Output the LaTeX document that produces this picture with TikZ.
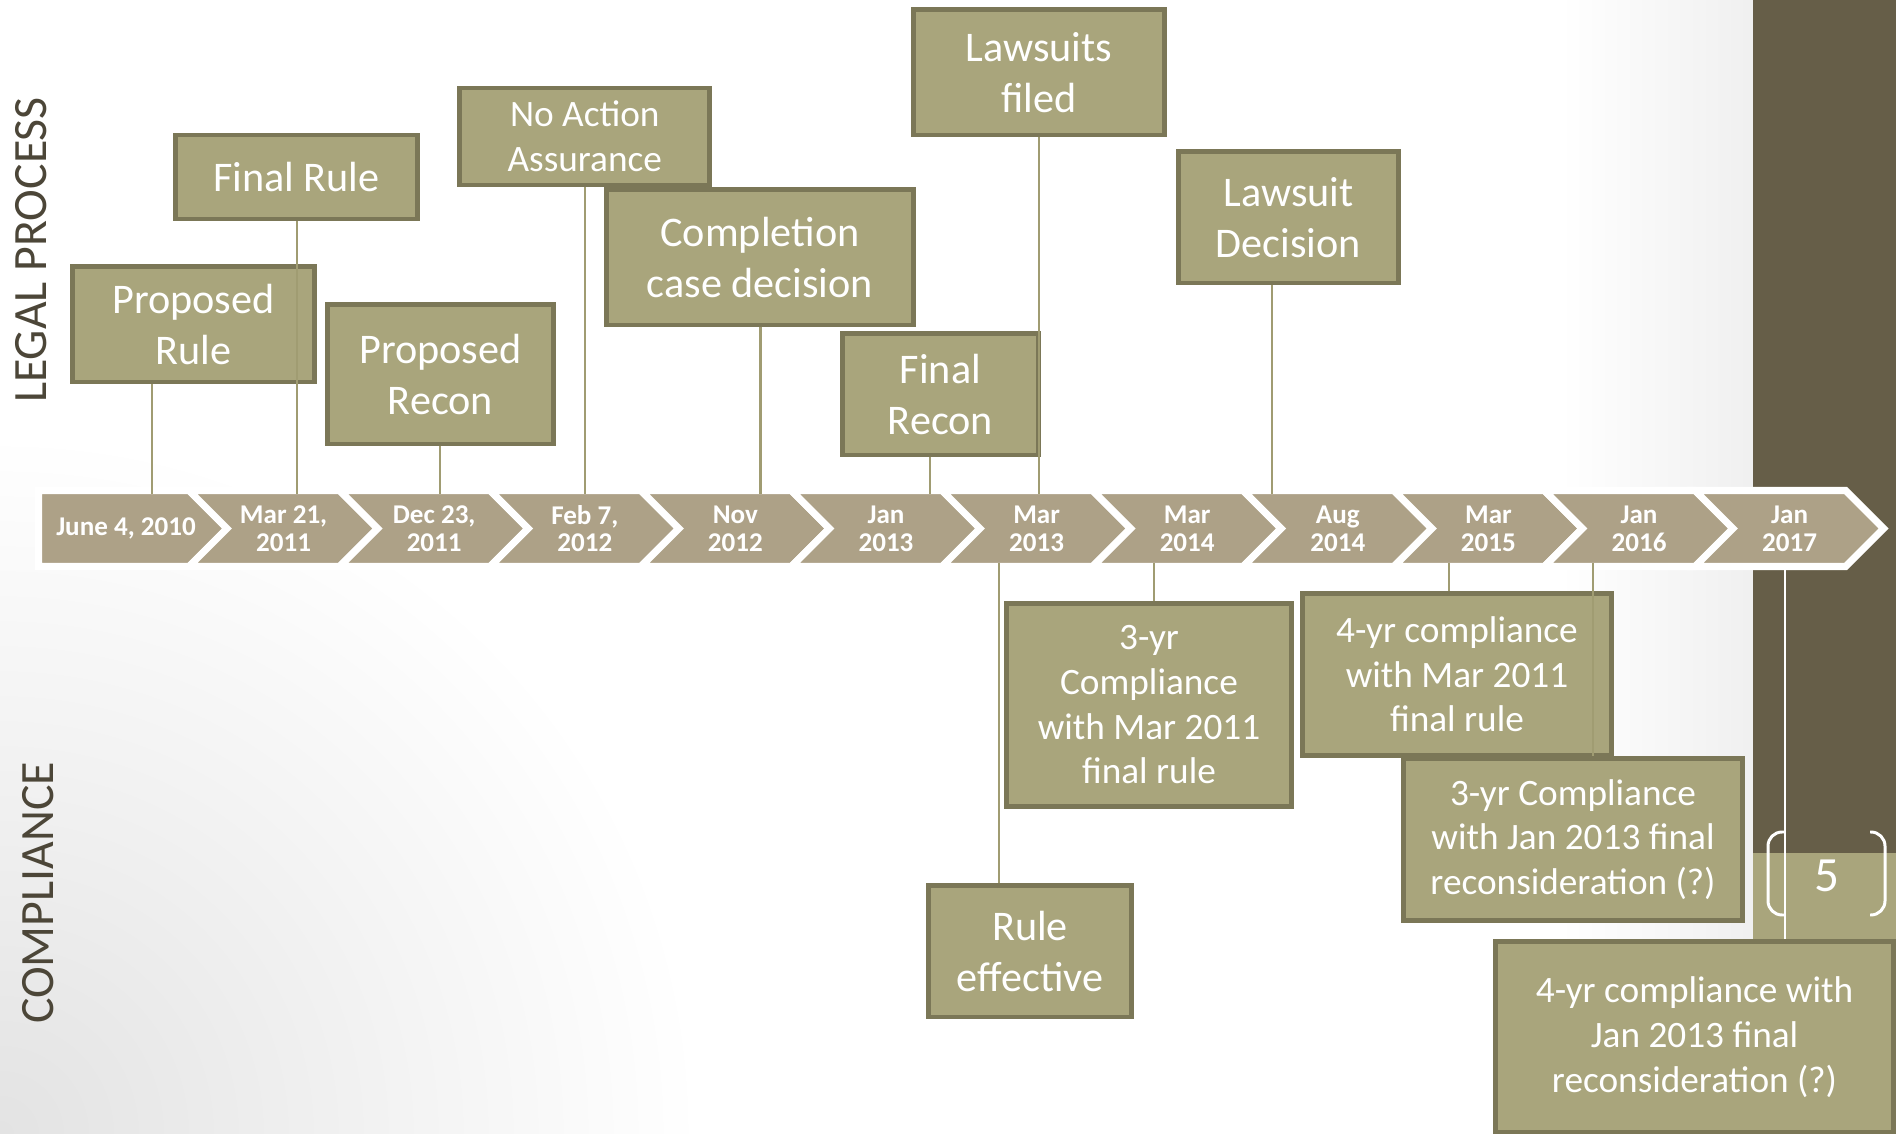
\documentclass[tikz,border=0pt]{standalone}
\usepackage{fontspec}
\setmainfont{Carlito}
\usepackage{xcolor}
\usetikzlibrary{positioning}
\definecolor{boxfill}{RGB}{169,165,124}
\definecolor{boxline}{RGB}{123,119,87}
\definecolor{chevron}{RGB}{173,161,135}
\definecolor{panel}{RGB}{102,94,72}
\definecolor{sidetext}{RGB}{76,70,56}
\definecolor{linkcol}{RGB}{160,156,114}
\tikzset{
  basic/.style    = {draw=boxline, fill=boxfill, line width=1.4pt, text=white,
                     align=center, rectangle, inner sep=0pt},
  bigbox/.style   = {basic, font=\fontsize{12}{14.5}\selectfont},
  smallbox/.style = {basic, font=\fontsize{10.6}{12.7}\selectfont},
  boxdim/.style 2 args = {minimum width=#1cm, minimum height=#2cm},
  datelabel/.style = {text=white, align=center,
                     font=\fontsize{7.7}{7.9}\selectfont\bfseries},
  side/.style     = {text=sidetext, rotate=90, font=\fontsize{13.6}{16}\selectfont},
  link/.style     = {draw=linkcol, line width=0.7pt}
}

\begin{document}
\begin{tikzpicture}[x=0.01cm, y=-0.01cm]
\useasboundingbox (0,0) rectangle (1896,1134);
\clip (0,0) rectangle (1896,1134);

% background and side panel
\shade[inner color=black!11, outer color=white] (0,1134) circle (7cm);
\shade[left color=white, right color=black!6] (1560,0) rectangle (1753,1134);
\fill[panel] (1753,0) rectangle (1896,853);
\fill[boxfill] (1753,853) rectangle (1896,1134);

% side titles
\node[side] (legal) at (31,250) {LEGAL PROCESS};
\node[side] (compl) at (38,893) {COMPLIANCE};

% the timeline, first chevron has a flat back
\filldraw[fill=chevron, draw=white, line width=2pt]
  (38.5,490.5) -- (189,490.5) -- (227,528.5) -- (189,566.5) -- (38.5,566.5) -- cycle;
\node[datelabel] (d0) at (126,528.5) {June 4, 2010};
\foreach \k/\lbl in {1/{Mar 21,\\2011}, 2/{Dec 23,\\2011}, 3/{Feb 7,\\2012},
                     4/{Nov\\2012}, 5/{Jan\\2013}, 6/{Mar\\2013}, 7/{Mar\\2014},
                     8/{Aug\\2014}, 9/{Mar\\2015}, 10/{Jan\\2016}, 11/{Jan\\2017}}{
  \pgfmathsetmacro\tip{227+150.6*\k}
  \filldraw[fill=chevron, draw=white, line width=2pt]
    ({\tip-188.6},490.5) -- ({\tip-38},490.5) -- (\tip,528.5) -- ({\tip-38},566.5)
    -- ({\tip-188.6},566.5) -- ({\tip-150.6},528.5) -- cycle;
  \node[datelabel] (d\k) at ({\tip-94},528.5) {\lbl};
}

% legal process, above the line
\node[bigbox, boxdim={2.42}{0.84}] (frule) at (296.5,177) {Final Rule};
\node[bigbox, boxdim={2.42}{1.15}] (prule) at (193.3,324.5) {Proposed\\Rule};
\node[bigbox, boxdim={2.25}{1.39}] (precon) at (440.5,374.5) {Proposed\\Recon};
\node[smallbox, boxdim={2.5}{0.97}] (noaction) at (584.8,136.5) {No Action\\Assurance};
\node[bigbox, boxdim={3.06}{1.35}] (completion) at (760,257.5) {Completion\\case decision};
\node[bigbox, boxdim={2.5}{1.25}] (lawsuits) at (1039,72.5) {Lawsuits\\filed};
\node[bigbox, boxdim={1.95}{1.21}] (frecon) at (940.5,394.5) {Final\\Recon};
\node[bigbox, boxdim={2.19}{1.31}] (ldecision) at (1288.5,217.5) {Lawsuit\\Decision};

% compliance, below the line
\node[smallbox, boxdim={2.84}{2.02}] (comp3mar) at (1149,705) {3-yr\\Compliance\\with Mar 2011\\final rule};
\node[bigbox, boxdim={2.02}{1.31}] (ruleeff) at (1030,951.5) {Rule\\effective};
\node[smallbox, boxdim={3.08}{1.61}] (comp4mar) at (1457,674.5) {4-yr compliance\\with Mar 2011\\final rule};
\node[smallbox, boxdim={3.38}{1.61}] (comp3jan) at (1573,839.5) {3-yr Compliance\\with Jan 2013 final\\reconsideration (?)};
\node[smallbox, boxdim={3.97}{1.9}] (comp4jan) at (1694.5,1037) {4-yr compliance with\\Jan 2013 final\\reconsideration (?)};

% where the lines meet the timeline
\coordinate (a1) at (152,494);
\coordinate (a2) at (297,494);
\coordinate (a3) at (440,494);
\coordinate (a4) at (585,494);
\coordinate (a5) at (760.6,494);
\coordinate (a6) at (930,494);
\coordinate (a7) at (1039,494);
\coordinate (a8) at (1272,494);
\coordinate (b1) at (999,563);
\coordinate (b2) at (1154,563);
\coordinate (b3) at (1449,563);
\coordinate (b4) at (1593,563);
\coordinate (b5) at (1785,563);

\draw[link] (a1 |- prule.south) -- (a1);
\draw[link] (a2 |- frule.south) -- (a2);
\draw[link] (a3 |- precon.south) -- (a3);
\draw[link] (a4 |- noaction.south) -- (a4);
\draw[link] (a5 |- completion.south) -- (a5);
\draw[link] (a6 |- frecon.south) -- (a6);
\draw[link] (a7 |- lawsuits.south) -- (a7);
\draw[link] (a8 |- ldecision.south) -- (a8);

\draw[link] (b1) -- (b1 |- ruleeff.north);
\draw[link] (b2) -- (b2 |- comp3mar.north);
\draw[link] (b3) -- (b3 |- comp4mar.north);
\draw[link] (b4) -- (b4 |- comp3jan.north);
\draw[link, draw=white] (b5) -- (b5 |- comp4jan.north);

% slide number
\node[text=white, font=\fontsize{14}{16}\selectfont] (slidenum) at (1827,876) {5};
\draw[white, line width=0.85pt, rounded corners=4pt]
  (1784,832) -- (1768,832) -- (1768,915) -- (1784,915);
\draw[white, line width=0.85pt, rounded corners=4pt]
  (1870,832) -- (1885,832) -- (1885,915) -- (1870,915);
\end{tikzpicture}
\end{document}
